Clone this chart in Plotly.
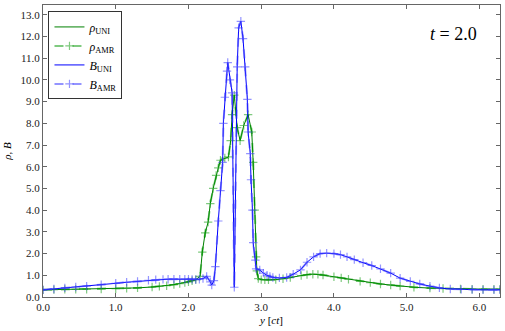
import plotly.graph_objects as go

# density rho along y
rho_x = [0.0, 0.15, 0.3, 0.45, 0.6, 0.8, 1.0, 1.15, 1.3, 1.5, 1.6, 1.7, 1.8, 1.88, 1.95, 2.0, 2.05,
         2.1, 2.16, 2.19, 2.23, 2.27, 2.30, 2.34, 2.38, 2.41, 2.44, 2.50, 2.55, 2.58, 2.60, 2.63,
         2.67, 2.71, 2.76, 2.82, 2.87, 2.89, 2.91, 2.93, 2.94, 2.96, 3.0, 3.05, 3.1, 3.2, 3.3,
         3.4, 3.55, 3.63, 3.71, 3.78, 3.85, 4.0, 4.1, 4.2, 4.36, 4.5, 4.64, 4.78, 4.91, 5.1, 5.32,
         5.5, 5.74, 5.9, 6.05, 6.2, 6.283]
rho_v = [0.33, 0.34, 0.35, 0.35, 0.36, 0.37, 0.38, 0.40, 0.42, 0.46, 0.49, 0.52, 0.57, 0.62, 0.66, 0.70, 0.75,
         0.80, 0.95, 2.07, 2.95, 3.45, 4.3, 5.0, 5.6, 5.95, 6.3, 6.4, 6.45, 7.2, 8.4, 9.3,
         7.8, 7.2, 7.9, 8.4, 7.6, 6.2, 4.0, 1.85, 1.2, 0.85, 0.80, 0.79, 0.79, 0.80, 0.84,
         0.90, 0.99, 1.03, 1.05, 1.04, 1.01, 0.93, 0.88, 0.82, 0.72, 0.66, 0.60, 0.55, 0.50, 0.45, 0.41,
         0.39, 0.37, 0.36, 0.36, 0.36, 0.36]

# magnetic field B along y
b_x = [0.0, 0.15, 0.3, 0.45, 0.6, 0.8, 1.0, 1.15, 1.3, 1.45, 1.55, 1.65, 1.72, 1.8, 1.88, 1.95, 2.0,
       2.05, 2.1, 2.15, 2.2, 2.25, 2.3, 2.32, 2.35, 2.37, 2.41, 2.44, 2.47, 2.48, 2.50, 2.53, 2.54,
       2.57, 2.60, 2.63, 2.67, 2.69, 2.72, 2.75, 2.78, 2.81, 2.82, 2.85, 2.86, 2.88, 2.89, 2.92,
       2.93, 2.98, 3.03, 3.08, 3.12, 3.16, 3.25, 3.35, 3.44, 3.54, 3.63, 3.72, 3.81, 3.9, 4.0,
       4.09, 4.18, 4.28, 4.4, 4.52, 4.64, 4.78, 4.91, 5.05, 5.18, 5.32, 5.45, 5.6, 5.75, 5.9, 6.05,
       6.2, 6.283]
b_v = [0.33, 0.37, 0.42, 0.46, 0.50, 0.57, 0.63, 0.68, 0.72, 0.77, 0.80, 0.81, 0.82, 0.82, 0.82, 0.82, 0.82,
       0.81, 0.80, 0.82, 0.85, 0.95, 0.70, 0.55, 0.75, 1.4, 3.5, 4.9, 6.2, 8.0, 9.2, 10.4, 10.8,
       10.0, 9.4, 0.45, 10.6, 12.4, 12.7, 11.9, 10.6, 9.1, 7.6, 6.6, 5.4, 4.0, 2.5, 1.7,
       1.3, 1.25, 1.1, 1.0, 0.95, 0.90, 0.88, 0.90, 1.05, 1.25, 1.6, 1.85, 2.0, 2.02, 2.0,
       1.95, 1.85, 1.72, 1.58, 1.45, 1.3, 1.1, 0.87, 0.72, 0.6, 0.5, 0.42, 0.37, 0.35, 0.34, 0.33,
       0.33, 0.33]

x_ticks = [0, 1, 2, 3, 4, 5, 6]
y_ticks = list(range(14))

SERIF = "'Liberation Serif', 'Times New Roman', serif"
GREEN = "#008000"
GREEN_LIGHT = "rgba(0,150,0,0.5)"
BLUE = "#0000ff"
BLUE_LIGHT = "rgba(60,60,255,0.55)"
AXIS = "#666666"

fig = go.Figure()

fig.add_trace(go.Scatter(x=rho_x, y=rho_v, mode="lines", name="<i>ρ</i><sub>UNI</sub>",
                         line=dict(color=GREEN, width=1)))
fig.add_trace(go.Scatter(x=rho_x, y=rho_v, mode="lines+markers", name="<i>ρ</i><sub>AMR</sub>",
                         line=dict(color=GREEN_LIGHT, width=2, dash="dash"),
                         marker=dict(symbol="cross-thin", size=6, line=dict(color=GREEN_LIGHT, width=1.2))))
fig.add_trace(go.Scatter(x=b_x, y=b_v, mode="lines", name="<i>B</i><sub>UNI</sub>",
                         line=dict(color=BLUE, width=1)))
fig.add_trace(go.Scatter(x=b_x, y=b_v, mode="lines+markers", name="<i>B</i><sub>AMR</sub>",
                         line=dict(color=BLUE_LIGHT, width=2, dash="dash"),
                         marker=dict(symbol="cross-thin", size=6, line=dict(color=BLUE_LIGHT, width=1.2))))

fig.add_annotation(x=0.955, y=0.9, xref="paper", yref="paper", xanchor="right", yanchor="middle",
                   text="<i>t</i> = 2.0", showarrow=False, font=dict(family=SERIF, size=18, color="black"))

axis_common = dict(showline=True, linecolor=AXIS, linewidth=1, mirror="ticks", ticks="inside",
                   ticklen=4, tickcolor=AXIS, showgrid=False, zeroline=False,
                   tickfont=dict(family=SERIF, size=11, color="#222222"))

fig.update_layout(
    width=505, height=331,
    margin=dict(l=43, r=5, t=5, b=34),
    font=dict(family=SERIF),
    paper_bgcolor="white", plot_bgcolor="white",
    showlegend=True,
    legend=dict(x=0.012, y=0.978, xanchor="left", yanchor="top",
                bgcolor="white", bordercolor="#333333", borderwidth=1,
                font=dict(family=SERIF, size=12, color="black"),
                itemwidth=30, tracegroupgap=0),
    xaxis=dict(range=[0, 6.2832], tickvals=x_ticks, tickformat=".1f",
               title=dict(text="<i>y</i> [<i>ct</i>]", font=dict(family=SERIF, size=11, color="black"), standoff=4),
               **axis_common),
    yaxis=dict(range=[0, 13.45], tickvals=y_ticks, tickformat=".1f",
               title=dict(text="<i>ρ</i>, <i>B</i>", font=dict(family=SERIF, size=11, color="black"), standoff=6),
               **axis_common),
)

# drop the page's default body margin so the figure sits at the window's corner
fig.write_html("out.html", config={"displayModeBar": False},
               post_script="document.body.style.margin='0';")
